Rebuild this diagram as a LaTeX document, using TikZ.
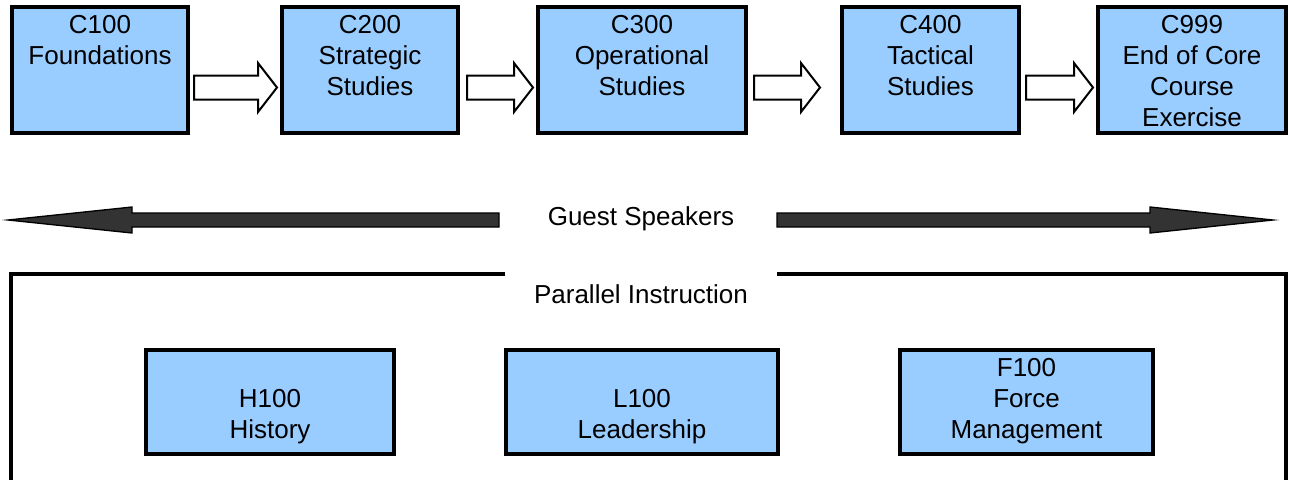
\documentclass[tikz,border=0pt]{standalone}
\usepackage{fontspec}
\setmainfont{Liberation Sans}
\usepackage{xcolor}
\usepackage{tikz}
\usetikzlibrary{calc,positioning}
\definecolor{courseblue}{HTML}{99CCFF}
\definecolor{speakergray}{HTML}{333333}

\begin{document}
\begin{tikzpicture}[x=0.75pt, y=-0.75pt,
	every node/.style={font=\fontsize{19.5}{23.25}\selectfont, inner sep=0pt, align=center},
	course/.style={draw, line width=3pt, fill=courseblue},
	core/.style={course, minimum height=94.5pt, text height=66pt, text depth=28.5pt},
	parallel/.style={course, minimum height=78pt, text height=66pt, text depth=12pt},
	flow/.style={draw, line width=1.5pt, fill=white, line join=miter},
	speaker/.style={draw, line width=1pt, fill=speakergray},
	frame/.style={line width=3pt}]
	\useasboundingbox (0,0) rectangle (1289,480);
	% core courses
	\node[core, minimum width=132pt, text height=42.75pt, text depth=51.75pt] (c100) at (100,70) {C100\\Foundations};
	\node[core, minimum width=132pt, right=67.5pt of c100] (c200) {C200\\Strategic\\Studies};
	\node[core, minimum width=156pt, right=57pt of c200] (c300) {C300\\Operational\\Studies};
	\node[core, minimum width=132.75pt, right=69pt of c300] (c400) {C400\\Tactical\\Studies};
	\node[core, minimum width=141pt, right=56.25pt of c400, text height=89.25pt, text depth=5.25pt] (c999) {C999\\End of Core\\Course\\Exercise};
	% arrows between courses
	\foreach \a/\b/\s/\e in {c100/c200/4/3, c200/c300/7/3, c300/c400/6/20, c400/c999/5/3}
		\draw[flow] ($(\a.east)+(\s,5.5)$) -- ($(\b.west)+(-\e-19,5.5)$) -- ($(\b.west)+(-\e-19,-7)$)
			-- ($(\b.west)+(-\e,17.5)$) -- ($(\b.west)+(-\e-19,42)$) -- ($(\b.west)+(-\e-19,29.5)$)
			-- ($(\a.east)+(\s,29.5)$) -- cycle;
	% guest speakers
	\node[anchor=base] (guest) at (641,225) {Guest Speakers};
	\coordinate (gsl) at (499,220);
	\coordinate (gsr) at (777,220);
	\coordinate (gtl) at (8,220);
	\coordinate (gtr) at (1273,220);
	\draw[speaker] ($(gsl)+(0,-7)$) -- ($(gtl)+(124,-7)$) -- ($(gtl)+(124,-13)$) -- (gtl)
		-- ($(gtl)+(124,13)$) -- ($(gtl)+(124,7)$) -- ($(gsl)+(0,7)$) -- cycle;
	\draw[speaker] ($(gsr)+(0,-7)$) -- ($(gtr)+(-123,-7)$) -- ($(gtr)+(-123,-13)$) -- (gtr)
		-- ($(gtr)+(-123,13)$) -- ($(gtr)+(-123,7)$) -- ($(gsr)+(0,7)$) -- cycle;
	% parallel instruction
	\node[anchor=base] (par) at (641,303) {Parallel Instruction};
	\draw[frame] (505,274) -| (11,480);
	\draw[frame] (777,274) -| (1286,480);
	\node[parallel, minimum width=186pt] (h100) at (270,402) {H100\\History};
	\node[parallel, minimum width=204pt, right=81pt of h100] (l100) {L100\\Leadership};
	\node[parallel, minimum width=189.75pt, right=88.5pt of l100] (f100) {F100\\Force\\Management};
\end{tikzpicture}
\end{document}
